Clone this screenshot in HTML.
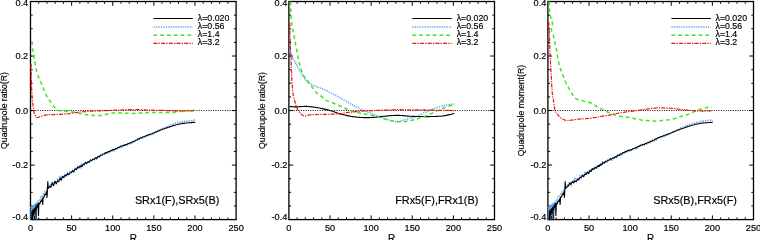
<!DOCTYPE html>
<html><head><meta charset="utf-8"><style>
html,body{margin:0;padding:0;background:#fff;width:760px;height:240px;overflow:hidden}
svg{display:block}
text{font-family:"Liberation Sans",sans-serif;fill:#000;stroke:#000;stroke-width:0.18px}
svg{will-change:transform}
.tk{font-size:9.2px}
.ax{font-size:10px}
.yl{font-size:8.7px}
.lg{font-size:8.8px}
.nt{font-size:10.85px}
</style></head><body>
<svg width="760" height="240" viewBox="0 0 760 240">
<line x1="30.5" y1="110.55" x2="236.1" y2="110.55" stroke="#222" stroke-width="1.1" stroke-dasharray="1.1 1.27"/>
<path d="M38.72,1.5v2.2M38.72,219.6v-2.2M46.95,1.5v2.2M46.95,219.6v-2.2M55.17,1.5v2.2M55.17,219.6v-2.2M63.40,1.5v2.2M63.40,219.6v-2.2M71.62,1.5v4.2M71.62,219.6v-4.2M79.84,1.5v2.2M79.84,219.6v-2.2M88.07,1.5v2.2M88.07,219.6v-2.2M96.29,1.5v2.2M96.29,219.6v-2.2M104.52,1.5v2.2M104.52,219.6v-2.2M112.74,1.5v4.2M112.74,219.6v-4.2M120.96,1.5v2.2M120.96,219.6v-2.2M129.19,1.5v2.2M129.19,219.6v-2.2M137.41,1.5v2.2M137.41,219.6v-2.2M145.64,1.5v2.2M145.64,219.6v-2.2M153.86,1.5v4.2M153.86,219.6v-4.2M162.08,1.5v2.2M162.08,219.6v-2.2M170.31,1.5v2.2M170.31,219.6v-2.2M178.53,1.5v2.2M178.53,219.6v-2.2M186.76,1.5v2.2M186.76,219.6v-2.2M194.98,1.5v4.2M194.98,219.6v-4.2M203.20,1.5v2.2M203.20,219.6v-2.2M211.43,1.5v2.2M211.43,219.6v-2.2M219.65,1.5v2.2M219.65,219.6v-2.2M227.88,1.5v2.2M227.88,219.6v-2.2M30.5,15.13h2.2M236.1,15.13h-2.2M30.5,28.76h2.2M236.1,28.76h-2.2M30.5,42.39h2.2M236.1,42.39h-2.2M30.5,56.03h4.2M236.1,56.03h-4.2M30.5,69.66h2.2M236.1,69.66h-2.2M30.5,83.29h2.2M236.1,83.29h-2.2M30.5,96.92h2.2M236.1,96.92h-2.2M30.5,110.55h4.2M236.1,110.55h-4.2M30.5,124.18h2.2M236.1,124.18h-2.2M30.5,137.81h2.2M236.1,137.81h-2.2M30.5,151.44h2.2M236.1,151.44h-2.2M30.5,165.08h4.2M236.1,165.08h-4.2M30.5,178.71h2.2M236.1,178.71h-2.2M30.5,192.34h2.2M236.1,192.34h-2.2M30.5,205.97h2.2M236.1,205.97h-2.2" stroke="#000" stroke-width="1" fill="none"/>
<rect x="30.5" y="1.5" width="205.6" height="218.10" fill="none" stroke="#000" stroke-width="1.3"/>
<text x="28.20" y="6.40" class="tk" text-anchor="end">0.4</text>
<text x="28.20" y="59.33" class="tk" text-anchor="end">0.2</text>
<text x="28.20" y="113.85" class="tk" text-anchor="end">0.0</text>
<text x="28.20" y="168.38" class="tk" text-anchor="end">-0.2</text>
<text x="28.20" y="220.00" class="tk" text-anchor="end">-0.4</text>
<text x="30.50" y="230.8" class="tk" text-anchor="middle">0</text>
<text x="71.62" y="230.8" class="tk" text-anchor="middle">50</text>
<text x="112.74" y="230.8" class="tk" text-anchor="middle">100</text>
<text x="153.86" y="230.8" class="tk" text-anchor="middle">150</text>
<text x="194.98" y="230.8" class="tk" text-anchor="middle">200</text>
<text x="236.10" y="230.8" class="tk" text-anchor="middle">250</text>
<text x="133.30" y="241.5" class="ax" text-anchor="middle">R</text>
<text transform="translate(6.60,110.55) rotate(-90)" class="yl" text-anchor="middle">Quadrupole ratio(R)</text>
<text x="134.90" y="204.4" class="nt">SRx1(F),SRx5(B)</text>
<path d="M31.00,206.24 L31.60,219.16 L32.20,205.63 L32.80,219.90 L33.40,204.97 L34.00,219.35 L34.60,204.84 L35.20,218.72 L35.80,203.03 L36.40,219.52" stroke="#5aa5f5" stroke-width="0.9" fill="none" stroke-dasharray="1.3 1.1"/>
<path d="M31.60,207.56 L32.50,220.04 L33.40,206.79 L34.30,219.66 L35.20,205.11 L36.10,218.97 L37.00,203.50" stroke="#000" stroke-width="0.7" fill="none"/>
<path d="M30.90,219.60 L31.20,207.00 L31.60,219.00 L32.10,206.00 L32.70,218.00 L33.30,205.00 L33.90,216.00 L34.50,204.00 L35.20,212.00 L35.80,203.00 L36.50,208.00 L37.20,201.50 L38.00,203.00 L39.00,199.50 L40.00,199.50 L41.00,196.80 L42.00,196.80 L43.00,194.00 L44.00,193.80 L45.00,191.50 L46.00,190.80 L47.00,188.00 L48.00,187.80 L49.00,186.00 L50.00,185.00 L50.90,186.25 L52.19,181.68 L53.63,183.33 L55.00,181.18 L56.25,182.11 L57.50,179.27 L58.75,181.43 L60.00,177.10 L61.25,179.38 L62.50,175.65 L63.75,177.61 L65.00,174.60 L66.25,175.52 L67.50,173.00 L68.75,174.64 L70.00,171.66 L71.25,172.94 L72.50,170.20 L73.75,171.25 L75.00,168.40 L76.30,169.39 L77.62,166.35 L78.89,167.43 L80.00,166.07 L80.84,167.43 L81.50,164.65 L82.16,165.62 L83.00,163.26 L84.11,165.59 L85.38,163.14 L86.70,163.68 L88.00,161.89 L89.25,162.36 L90.50,160.24 L91.75,160.96 L93.00,158.95 L94.25,159.63 L95.50,158.37 L96.75,159.24 L98.00,157.02 L99.25,157.57 L100.50,155.48 L101.75,156.16 L103.00,154.30 L104.25,154.44 L105.50,152.79 L106.75,153.99 L108.00,151.49 L109.25,152.67 L110.50,151.04 L111.75,151.51 L113.00,149.89 L114.25,150.73 L115.50,149.30 L116.75,149.36 L118.00,148.08 L119.25,148.45 L120.50,146.71 L121.75,147.31 L123.00,146.14 L124.25,146.47 L125.50,144.96 L126.75,145.35 L128.00,144.16 L129.25,144.31 L130.50,143.08 L131.75,143.44 L133.00,142.16 L134.25,142.15 L135.50,140.89 L136.75,140.93 L138.00,139.72 L139.25,139.53 L140.50,138.46 L141.75,138.59 L143.00,137.54 L144.25,137.49 L145.50,136.52 L146.75,136.47 L148.00,135.50 L149.25,135.83 L150.50,134.55 L151.75,134.65 L153.00,133.36 L154.25,133.24 L155.50,131.86 L156.75,131.49 L158.00,130.28 L159.25,130.32 L160.50,129.22 L161.75,128.94 L163.00,127.92 L164.25,127.89 L165.50,127.04 L166.75,126.75 L168.00,126.09 L169.25,125.94 L170.50,124.87 L171.75,125.10 L173.00,124.10 L174.25,123.94 L175.50,123.30 L176.75,123.33 L178.00,122.44 L179.25,122.60 L180.50,121.97 L181.75,121.99 L183.00,121.40 L184.25,121.54 L185.50,121.04 L186.75,121.23 L188.00,120.58 L189.32,120.74 L190.67,120.40 L191.95,120.59 L193.00,120.16 L193.80,120.42 L194.41,120.00 L194.87,120.30 L195.20,119.92" stroke="#5aa5f5" stroke-width="1.5" fill="none" stroke-dasharray="1.3 1.15"/>
<path d="M31.60,219.60 L32.00,211.00 L32.40,219.60 L32.90,210.00 L33.50,215.00 L34.10,208.50 L34.80,213.00 L35.50,207.00 L36.20,210.00 L36.90,205.00 L37.60,207.00 L38.10,203.50 L38.50,215.50 L38.90,203.00 L39.80,204.00 L40.60,201.00 L41.50,201.50 L42.20,198.50 L42.70,204.50 L43.20,197.00 L44.20,197.00 L45.00,194.00 L45.90,194.50 L46.60,191.50 L47.00,197.50 L47.50,189.50 L47.80,181.50 L48.30,188.50 L49.50,187.20 L50.00,186.20 L50.90,187.29 L52.19,182.93 L53.63,185.65 L55.00,181.22 L56.25,183.86 L57.50,180.89 L58.75,181.64 L60.00,178.08 L61.25,180.20 L62.50,176.43 L63.75,177.57 L65.00,175.26 L66.25,176.00 L67.50,173.58 L68.75,174.77 L70.00,172.69 L71.25,172.78 L72.50,170.91 L73.75,172.04 L75.00,168.92 L76.30,169.61 L77.62,167.28 L78.89,167.90 L80.00,165.96 L80.84,166.59 L81.50,165.55 L82.16,166.37 L83.00,164.38 L84.11,164.55 L85.38,162.32 L86.70,163.57 L88.00,161.46 L89.25,162.19 L90.50,159.94 L91.75,160.63 L93.00,158.96 L94.25,159.58 L95.50,157.50 L96.75,158.44 L98.00,156.23 L99.25,156.69 L100.50,155.21 L101.75,155.14 L103.00,153.96 L104.25,153.75 L105.50,152.62 L106.75,152.84 L108.00,151.66 L109.25,151.79 L110.50,150.52 L111.75,150.66 L113.00,149.37 L114.25,149.75 L115.50,148.60 L116.75,148.68 L118.00,147.37 L119.25,147.39 L120.50,146.16 L121.75,146.25 L123.00,145.19 L124.25,145.55 L125.50,144.54 L126.75,144.58 L128.00,143.47 L129.25,143.50 L130.50,142.60 L131.75,142.26 L133.00,141.46 L134.25,141.39 L135.50,140.21 L136.75,140.03 L138.00,138.74 L139.25,138.87 L140.50,137.79 L141.75,137.59 L143.00,136.69 L144.25,136.68 L145.50,135.83 L146.75,135.71 L148.00,134.74 L149.25,134.82 L150.50,134.04 L151.75,133.94 L153.00,133.12 L154.25,132.82 L155.50,131.97 L156.75,131.86 L158.00,130.98 L159.25,130.84 L160.50,129.98 L161.75,129.77 L163.00,129.10 L164.25,128.81 L165.50,128.22 L166.75,127.90 L168.00,127.24 L169.25,127.18 L170.50,126.51 L171.75,126.23 L173.00,125.61 L174.25,125.54 L175.50,124.97 L176.75,124.79 L178.00,124.29 L179.25,124.26 L180.50,123.76 L181.75,123.70 L183.00,123.36 L184.25,123.36 L185.50,123.03 L186.75,123.01 L188.00,122.68 L189.32,122.72 L190.67,122.47 L191.95,122.60 L193.00,122.31 L193.80,122.45 L194.41,122.29 L194.87,122.38 L195.20,122.26" stroke="#000000" stroke-width="1.1" fill="none" stroke-linejoin="round"/>
<path d="M31.70,41.50 L31.78,42.19 L31.89,43.13 L32.02,44.25 L32.17,45.48 L32.33,46.75 L32.50,48.00 L32.69,49.26 L32.90,50.59 L33.12,51.97 L33.36,53.35 L33.58,54.71 L33.80,56.00 L34.00,57.22 L34.20,58.41 L34.40,59.56 L34.60,60.70 L34.80,61.84 L35.00,63.00 L35.20,64.17 L35.39,65.33 L35.58,66.50 L35.79,67.67 L36.02,68.83 L36.30,70.00 L36.63,71.19 L37.00,72.41 L37.41,73.64 L37.82,74.83 L38.22,75.96 L38.60,77.00 L38.94,77.91 L39.26,78.69 L39.57,79.42 L39.89,80.14 L40.22,80.92 L40.60,81.80 L41.01,82.79 L41.45,83.85 L41.91,84.96 L42.39,86.11 L42.88,87.30 L43.40,88.50 L43.94,89.76 L44.51,91.10 L45.10,92.47 L45.70,93.83 L46.30,95.12 L46.90,96.30 L47.48,97.35 L48.06,98.30 L48.64,99.19 L49.24,100.04 L49.85,100.90 L50.50,101.80 L51.20,102.76 L51.96,103.77 L52.73,104.78 L53.50,105.75 L54.23,106.64 L54.90,107.40 L55.50,108.03 L56.05,108.55 L56.57,108.99 L57.06,109.37 L57.53,109.70 L58.00,110.00 L58.44,110.25 L58.84,110.44 L59.23,110.59 L59.61,110.70 L60.03,110.80 L60.50,110.90 L61.02,111.00 L61.57,111.07 L62.16,111.14 L62.76,111.19 L63.38,111.24 L64.00,111.30 L64.60,111.35 L65.17,111.39 L65.75,111.42 L66.39,111.47 L67.12,111.52 L68.00,111.60 L69.08,111.70 L70.35,111.81 L71.72,111.94 L73.09,112.09 L74.38,112.24 L75.50,112.40 L76.40,112.58 L77.14,112.77 L77.79,112.98 L78.44,113.19 L79.15,113.40 L80.00,113.60 L80.99,113.79 L82.07,113.99 L83.22,114.17 L84.40,114.36 L85.61,114.54 L86.80,114.70 L88.01,114.86 L89.26,115.02 L90.53,115.17 L91.79,115.30 L93.02,115.42 L94.20,115.50 L95.31,115.56 L96.38,115.61 L97.42,115.63 L98.44,115.63 L99.46,115.58 L100.50,115.50 L101.54,115.36 L102.56,115.17 L103.58,114.94 L104.62,114.69 L105.69,114.44 L106.80,114.20 L107.98,113.95 L109.23,113.68 L110.50,113.41 L111.77,113.15 L113.02,112.94 L114.20,112.80 L115.30,112.74 L116.34,112.74 L117.35,112.79 L118.36,112.87 L119.40,112.94 L120.50,113.00 L121.68,113.05 L122.93,113.10 L124.20,113.16 L125.47,113.21 L126.72,113.26 L127.90,113.30 L129.00,113.33 L130.04,113.37 L131.05,113.39 L132.06,113.41 L133.10,113.41 L134.20,113.40 L135.38,113.36 L136.63,113.30 L137.90,113.23 L139.17,113.15 L140.42,113.07 L141.60,113.00 L142.65,112.93 L143.57,112.85 L144.46,112.78 L145.41,112.70 L146.53,112.64 L147.90,112.60 L149.58,112.58 L151.51,112.58 L153.59,112.59 L155.76,112.61 L157.92,112.61 L160.00,112.60 L162.03,112.58 L164.08,112.55 L166.13,112.51 L168.15,112.46 L170.12,112.39 L172.00,112.30 L173.83,112.17 L175.63,112.01 L177.38,111.82 L179.04,111.64 L180.59,111.46 L182.00,111.30 L183.22,111.16 L184.26,111.03 L185.19,110.91 L186.08,110.80 L186.99,110.70 L188.00,110.60 L189.18,110.51 L190.49,110.43 L191.82,110.36 L193.08,110.29 L194.14,110.24 L194.90,110.20" stroke="#3ee81c" stroke-width="1.5" fill="none" stroke-dasharray="3.8 3"/>
<path d="M31.00,64.00 L31.02,65.17 L31.04,66.78 L31.07,68.69 L31.11,70.78 L31.15,72.92 L31.20,75.00 L31.25,77.06 L31.31,79.22 L31.37,81.44 L31.44,83.67 L31.51,85.87 L31.60,88.00 L31.70,90.12 L31.80,92.26 L31.91,94.38 L32.03,96.41 L32.16,98.30 L32.30,100.00 L32.45,101.48 L32.62,102.78 L32.80,103.94 L32.98,105.00 L33.15,106.01 L33.30,107.00 L33.43,107.97 L33.54,108.87 L33.64,109.73 L33.74,110.53 L33.86,111.28 L34.00,112.00 L34.16,112.67 L34.33,113.30 L34.52,113.88 L34.72,114.42 L34.95,114.93 L35.20,115.40 L35.45,115.87 L35.70,116.33 L35.98,116.76 L36.30,117.11 L36.70,117.37 L37.20,117.50 L37.84,117.45 L38.59,117.25 L39.43,116.95 L40.30,116.60 L41.17,116.27 L42.00,116.00 L42.79,115.78 L43.57,115.57 L44.35,115.37 L45.13,115.19 L45.93,115.03 L46.75,114.90 L47.57,114.80 L48.39,114.74 L49.22,114.69 L50.08,114.66 L51.00,114.63 L52.00,114.60 L53.06,114.57 L54.17,114.55 L55.33,114.53 L56.56,114.51 L57.86,114.47 L59.25,114.40 L60.80,114.30 L62.50,114.19 L64.28,114.05 L66.06,113.90 L67.74,113.75 L69.25,113.60 L70.54,113.44 L71.66,113.28 L72.69,113.11 L73.70,112.94 L74.78,112.77 L76.00,112.60 L77.34,112.43 L78.75,112.25 L80.22,112.07 L81.75,111.90 L83.34,111.74 L85.00,111.60 L86.76,111.47 L88.62,111.36 L90.54,111.26 L92.49,111.17 L94.42,111.08 L96.30,111.00 L98.12,110.92 L99.92,110.86 L101.71,110.79 L103.48,110.73 L105.24,110.67 L107.00,110.60 L108.69,110.52 L110.30,110.44 L111.89,110.36 L113.56,110.27 L115.37,110.18 L117.40,110.10 L119.68,110.01 L122.16,109.90 L124.79,109.79 L127.50,109.69 L130.26,109.63 L133.00,109.60 L135.78,109.63 L138.64,109.70 L141.54,109.79 L144.43,109.90 L147.27,110.01 L150.00,110.10 L152.62,110.17 L155.15,110.24 L157.62,110.31 L160.07,110.37 L162.52,110.43 L165.00,110.50 L167.50,110.57 L170.00,110.65 L172.51,110.72 L175.01,110.80 L177.51,110.86 L180.00,110.90 L182.66,110.92 L185.53,110.93 L188.39,110.93 L191.04,110.91 L193.28,110.90 L194.90,110.90" stroke="#f01010" stroke-width="1.2" fill="none" stroke-dasharray="4 1.2 1.3 1.2"/>
<line x1="153.4" y1="18.5" x2="192.8" y2="18.5" stroke="#000000" stroke-width="1.1" fill="none" stroke-linejoin="round"/>
<line x1="153.4" y1="27.0" x2="192.8" y2="27.0" stroke="#5aa5f5" stroke-width="1.5" fill="none" stroke-dasharray="1.3 1.15"/>
<line x1="153.4" y1="35.2" x2="192.8" y2="35.2" stroke="#3ee81c" stroke-width="1.5" fill="none" stroke-dasharray="3.8 3"/>
<line x1="153.4" y1="43.3" x2="192.8" y2="43.3" stroke="#f01010" stroke-width="1.2" fill="none" stroke-dasharray="4 1.2 1.3 1.2"/>
<text x="197.8" y="20.80" class="lg">λ=0.020</text>
<text x="197.8" y="28.90" class="lg">λ=0.56</text>
<text x="197.8" y="37.15" class="lg">λ=1.4</text>
<text x="197.8" y="45.30" class="lg">λ=3.2</text>
<line x1="288.9" y1="110.55" x2="494.5" y2="110.55" stroke="#222" stroke-width="1.1" stroke-dasharray="1.1 1.27"/>
<path d="M297.12,1.5v2.2M297.12,219.6v-2.2M305.35,1.5v2.2M305.35,219.6v-2.2M313.57,1.5v2.2M313.57,219.6v-2.2M321.80,1.5v2.2M321.80,219.6v-2.2M330.02,1.5v4.2M330.02,219.6v-4.2M338.24,1.5v2.2M338.24,219.6v-2.2M346.47,1.5v2.2M346.47,219.6v-2.2M354.69,1.5v2.2M354.69,219.6v-2.2M362.92,1.5v2.2M362.92,219.6v-2.2M371.14,1.5v4.2M371.14,219.6v-4.2M379.36,1.5v2.2M379.36,219.6v-2.2M387.59,1.5v2.2M387.59,219.6v-2.2M395.81,1.5v2.2M395.81,219.6v-2.2M404.04,1.5v2.2M404.04,219.6v-2.2M412.26,1.5v4.2M412.26,219.6v-4.2M420.48,1.5v2.2M420.48,219.6v-2.2M428.71,1.5v2.2M428.71,219.6v-2.2M436.93,1.5v2.2M436.93,219.6v-2.2M445.16,1.5v2.2M445.16,219.6v-2.2M453.38,1.5v4.2M453.38,219.6v-4.2M461.60,1.5v2.2M461.60,219.6v-2.2M469.83,1.5v2.2M469.83,219.6v-2.2M478.05,1.5v2.2M478.05,219.6v-2.2M486.28,1.5v2.2M486.28,219.6v-2.2M288.9,15.13h2.2M494.5,15.13h-2.2M288.9,28.76h2.2M494.5,28.76h-2.2M288.9,42.39h2.2M494.5,42.39h-2.2M288.9,56.03h4.2M494.5,56.03h-4.2M288.9,69.66h2.2M494.5,69.66h-2.2M288.9,83.29h2.2M494.5,83.29h-2.2M288.9,96.92h2.2M494.5,96.92h-2.2M288.9,110.55h4.2M494.5,110.55h-4.2M288.9,124.18h2.2M494.5,124.18h-2.2M288.9,137.81h2.2M494.5,137.81h-2.2M288.9,151.44h2.2M494.5,151.44h-2.2M288.9,165.08h4.2M494.5,165.08h-4.2M288.9,178.71h2.2M494.5,178.71h-2.2M288.9,192.34h2.2M494.5,192.34h-2.2M288.9,205.97h2.2M494.5,205.97h-2.2" stroke="#000" stroke-width="1" fill="none"/>
<rect x="288.9" y="1.5" width="205.6" height="218.10" fill="none" stroke="#000" stroke-width="1.3"/>
<text x="287.40" y="6.40" class="tk" text-anchor="end">0.4</text>
<text x="287.40" y="59.33" class="tk" text-anchor="end">0.2</text>
<text x="287.40" y="113.85" class="tk" text-anchor="end">0.0</text>
<text x="287.40" y="168.38" class="tk" text-anchor="end">-0.2</text>
<text x="287.40" y="220.00" class="tk" text-anchor="end">-0.4</text>
<text x="288.90" y="230.8" class="tk" text-anchor="middle">0</text>
<text x="330.02" y="230.8" class="tk" text-anchor="middle">50</text>
<text x="371.14" y="230.8" class="tk" text-anchor="middle">100</text>
<text x="412.26" y="230.8" class="tk" text-anchor="middle">150</text>
<text x="453.38" y="230.8" class="tk" text-anchor="middle">200</text>
<text x="494.50" y="230.8" class="tk" text-anchor="middle">250</text>
<text x="391.70" y="241.5" class="ax" text-anchor="middle">R</text>
<text transform="translate(265.00,110.55) rotate(-90)" class="yl" text-anchor="middle">Quadrupole ratio(R)</text>
<text x="395.20" y="204.4" class="nt">FRx5(F),FRx1(B)</text>
<path d="M290.20,40.64 L290.21,42.39 L290.22,42.84 L290.24,45.37 L290.27,46.24 L290.30,48.41 L290.34,48.91 L290.39,50.62 L290.44,50.81 L290.51,52.65 L290.60,52.79 L290.71,54.04 L290.83,54.18 L290.96,55.46 L291.12,55.05 L291.30,56.19 L291.50,55.91 L291.73,57.42 L291.97,56.83 L292.23,58.02 L292.50,57.78 L292.77,58.55 L293.05,58.37 L293.35,59.28 L293.66,59.27 L294.00,60.25 L294.36,60.41 L294.74,61.54 L295.14,61.61 L295.56,63.13 L296.00,63.17 L296.47,64.78 L296.96,65.10 L297.48,66.83 L297.99,67.21 L298.50,68.73 L299.01,68.99 L299.52,70.87 L300.04,70.93 L300.53,72.56 L301.00,72.77 L301.42,73.89 L301.81,74.07 L302.19,74.99 L302.58,75.04 L303.00,76.24 L303.46,76.30 L303.93,77.61 L304.42,77.70 L304.94,79.16 L305.50,79.38 L306.05,80.35 L306.60,80.48 L307.20,81.74 L307.90,81.78 L308.75,83.01 L309.81,83.33 L311.03,84.38 L312.36,84.49 L313.70,85.56 L315.00,85.89 L316.25,86.70 L317.50,86.75 L318.75,87.76 L320.00,87.89 L321.25,88.63 L322.50,88.92 L323.75,89.63 L325.00,89.87 L326.25,90.73 L327.50,91.04 L328.75,91.92 L330.00,92.30 L331.25,93.18 L332.50,93.57 L333.75,94.45 L335.00,94.90 L336.25,95.78 L337.50,96.30 L338.75,97.18 L340.00,97.64 L341.25,98.63 L342.50,99.09 L343.75,99.99 L345.00,100.48 L346.25,101.33 L347.50,101.87 L348.75,102.87 L350.00,103.49 L351.25,104.42 L352.50,104.95 L353.75,105.71 L355.00,106.17 L356.25,106.92 L357.50,107.38 L358.75,108.04 L360.00,108.52 L361.25,109.17 L362.50,109.58 L363.75,110.22 L365.00,110.65 L366.25,111.31 L367.50,111.75 L368.75,112.45 L370.00,112.90 L371.25,113.57 L372.50,113.99 L373.75,114.57 L375.00,114.97 L376.25,115.58 L377.50,115.97 L378.75,116.49 L380.00,116.86 L381.25,117.40 L382.50,117.75 L383.75,118.25 L385.00,118.59 L386.25,119.12 L387.50,119.48 L388.75,119.94 L390.00,120.28 L391.27,120.71 L392.56,121.00 L393.84,121.37 L395.08,121.55 L396.25,121.74 L397.35,121.66 L398.40,121.58 L399.40,121.35 L400.35,121.16 L401.25,120.89 L402.06,120.69 L402.78,120.39 L403.47,120.17 L404.19,119.84 L405.00,119.62 L405.92,119.31 L406.91,119.10 L407.94,118.82 L408.98,118.58 L410.00,118.28 L411.00,118.05 L412.00,117.77 L413.00,117.53 L414.00,117.21 L415.00,116.91 L416.00,116.51 L417.00,116.14 L418.00,115.66 L419.00,115.26 L420.00,114.78 L421.00,114.37 L422.00,113.89 L423.00,113.44 L424.00,112.96 L425.00,112.52 L426.00,112.02 L427.00,111.59 L428.00,111.10 L429.00,110.66 L430.00,110.19 L431.00,109.77 L432.00,109.31 L433.00,108.90 L434.00,108.47 L435.00,108.11 L436.00,107.74 L437.00,107.46 L438.00,107.14 L439.00,106.88 L440.00,106.59 L441.00,106.35 L442.00,106.08 L443.00,105.85 L444.00,105.60 L445.00,105.41 L446.01,105.19 L447.03,105.01 L448.04,104.81 L449.04,104.66 L450.00,104.49 L450.99,104.37 L452.01,104.24 L452.99,104.15 L453.81,104.06 L454.40,104.01" stroke="#5aa5f5" stroke-width="1.5" fill="none" stroke-dasharray="1.3 1.15"/>
<path d="M289.40,106.40 L289.67,106.43 L290.02,106.48 L290.45,106.54 L290.93,106.60 L291.46,106.65 L292.00,106.70 L292.58,106.74 L293.21,106.79 L293.88,106.84 L294.58,106.87 L295.29,106.90 L296.00,106.90 L296.70,106.88 L297.40,106.83 L298.11,106.78 L298.85,106.71 L299.64,106.65 L300.50,106.60 L301.44,106.55 L302.45,106.50 L303.52,106.44 L304.60,106.40 L305.69,106.39 L306.75,106.40 L307.79,106.45 L308.83,106.53 L309.88,106.63 L310.92,106.74 L311.96,106.87 L313.00,107.00 L314.04,107.14 L315.08,107.29 L316.12,107.45 L317.17,107.62 L318.21,107.81 L319.25,108.00 L320.29,108.21 L321.33,108.43 L322.38,108.66 L323.42,108.90 L324.46,109.15 L325.50,109.40 L326.54,109.65 L327.58,109.90 L328.62,110.15 L329.67,110.41 L330.71,110.70 L331.75,111.00 L332.77,111.33 L333.76,111.69 L334.75,112.06 L335.77,112.44 L336.84,112.83 L338.00,113.20 L339.28,113.58 L340.68,113.97 L342.12,114.36 L343.57,114.74 L344.97,115.09 L346.25,115.40 L347.41,115.66 L348.48,115.89 L349.50,116.09 L350.49,116.27 L351.48,116.44 L352.50,116.60 L353.54,116.75 L354.58,116.89 L355.62,117.01 L356.67,117.11 L357.71,117.21 L358.75,117.30 L359.79,117.38 L360.83,117.44 L361.88,117.50 L362.92,117.54 L363.96,117.58 L365.00,117.60 L366.04,117.61 L367.08,117.61 L368.12,117.60 L369.17,117.58 L370.21,117.54 L371.25,117.50 L372.29,117.44 L373.33,117.37 L374.38,117.29 L375.42,117.20 L376.46,117.10 L377.50,117.00 L378.54,116.89 L379.58,116.78 L380.62,116.66 L381.67,116.53 L382.71,116.41 L383.75,116.30 L384.79,116.19 L385.83,116.08 L386.88,115.97 L387.92,115.87 L388.96,115.78 L390.00,115.70 L391.06,115.63 L392.13,115.56 L393.20,115.51 L394.26,115.46 L395.28,115.42 L396.25,115.40 L397.14,115.39 L397.96,115.39 L398.75,115.39 L399.54,115.41 L400.36,115.45 L401.25,115.50 L402.22,115.57 L403.24,115.67 L404.30,115.79 L405.37,115.90 L406.44,116.01 L407.50,116.10 L408.47,116.17 L409.35,116.23 L410.23,116.27 L411.20,116.32 L412.35,116.36 L413.75,116.40 L415.47,116.44 L417.45,116.49 L419.61,116.54 L421.85,116.57 L424.09,116.60 L426.25,116.60 L428.41,116.58 L430.65,116.55 L432.89,116.51 L435.05,116.45 L437.03,116.38 L438.75,116.30 L440.15,116.21 L441.30,116.12 L442.27,116.02 L443.15,115.90 L444.03,115.76 L445.00,115.60 L446.08,115.40 L447.20,115.16 L448.32,114.91 L449.40,114.65 L450.39,114.41 L451.25,114.20 L451.99,114.02 L452.65,113.86 L453.22,113.71 L453.70,113.59 L454.09,113.48 L454.40,113.40" stroke="#000000" stroke-width="1.1" fill="none" stroke-linejoin="round"/>
<path d="M290.50,1.50 L290.53,2.44 L290.58,3.76 L290.63,5.31 L290.69,6.96 L290.75,8.57 L290.80,10.00 L290.84,11.25 L290.88,12.44 L290.92,13.59 L290.96,14.72 L291.02,15.85 L291.10,17.00 L291.20,18.18 L291.33,19.37 L291.46,20.56 L291.61,21.74 L291.76,22.89 L291.90,24.00 L292.04,25.05 L292.18,26.06 L292.32,27.05 L292.47,28.02 L292.63,29.00 L292.80,30.00 L293.00,31.06 L293.22,32.16 L293.46,33.27 L293.69,34.34 L293.91,35.35 L294.10,36.25 L294.26,36.98 L294.39,37.57 L294.51,38.08 L294.63,38.61 L294.76,39.22 L294.90,40.00 L295.06,40.98 L295.24,42.11 L295.42,43.33 L295.61,44.58 L295.80,45.79 L296.00,46.90 L296.20,47.89 L296.41,48.79 L296.62,49.66 L296.83,50.54 L297.04,51.47 L297.25,52.50 L297.45,53.65 L297.64,54.88 L297.83,56.17 L298.04,57.47 L298.25,58.76 L298.50,60.00 L298.77,61.18 L299.06,62.32 L299.37,63.45 L299.70,64.58 L300.04,65.72 L300.40,66.90 L300.79,68.17 L301.20,69.52 L301.64,70.89 L302.07,72.20 L302.50,73.40 L302.90,74.40 L303.25,75.15 L303.57,75.69 L303.87,76.11 L304.19,76.49 L304.56,76.92 L305.00,77.50 L305.53,78.22 L306.13,79.03 L306.77,79.88 L307.44,80.76 L308.11,81.64 L308.75,82.50 L309.38,83.33 L310.00,84.17 L310.62,85.00 L311.25,85.83 L311.88,86.67 L312.50,87.50 L313.11,88.35 L313.70,89.21 L314.30,90.08 L314.91,90.93 L315.55,91.74 L316.25,92.50 L317.02,93.20 L317.85,93.84 L318.72,94.45 L319.59,95.05 L320.45,95.64 L321.25,96.25 L321.98,96.89 L322.65,97.55 L323.30,98.20 L323.96,98.84 L324.68,99.45 L325.50,100.00 L326.43,100.49 L327.44,100.93 L328.50,101.33 L329.59,101.71 L330.69,102.10 L331.75,102.50 L332.78,102.91 L333.79,103.30 L334.80,103.69 L335.82,104.09 L336.89,104.53 L338.00,105.00 L339.18,105.53 L340.43,106.12 L341.70,106.73 L342.99,107.35 L344.26,107.95 L345.50,108.50 L346.70,109.02 L347.90,109.52 L349.08,110.00 L350.24,110.46 L351.38,110.88 L352.50,111.25 L353.59,111.57 L354.64,111.84 L355.67,112.07 L356.69,112.28 L357.72,112.48 L358.75,112.70 L359.79,112.93 L360.83,113.15 L361.88,113.37 L362.92,113.58 L363.96,113.79 L365.00,114.00 L366.04,114.20 L367.08,114.39 L368.12,114.58 L369.17,114.77 L370.21,114.98 L371.25,115.20 L372.29,115.44 L373.33,115.69 L374.38,115.96 L375.42,116.23 L376.46,116.51 L377.50,116.80 L378.54,117.10 L379.58,117.42 L380.62,117.74 L381.67,118.07 L382.71,118.39 L383.75,118.70 L384.78,119.00 L385.79,119.30 L386.80,119.59 L387.82,119.88 L388.89,120.15 L390.00,120.40 L391.22,120.64 L392.55,120.88 L393.91,121.10 L395.23,121.30 L396.45,121.47 L397.50,121.60 L398.34,121.68 L399.03,121.73 L399.61,121.74 L400.14,121.73 L400.67,121.71 L401.25,121.70 L401.86,121.69 L402.45,121.68 L403.05,121.66 L403.66,121.62 L404.30,121.57 L405.00,121.50 L405.76,121.41 L406.57,121.30 L407.42,121.17 L408.29,121.03 L409.15,120.87 L410.00,120.70 L410.83,120.51 L411.67,120.31 L412.50,120.09 L413.33,119.87 L414.17,119.63 L415.00,119.40 L415.83,119.16 L416.67,118.92 L417.50,118.67 L418.33,118.42 L419.17,118.16 L420.00,117.90 L420.83,117.63 L421.67,117.36 L422.50,117.09 L423.33,116.80 L424.17,116.51 L425.00,116.20 L425.83,115.87 L426.67,115.53 L427.50,115.18 L428.33,114.82 L429.17,114.46 L430.00,114.10 L430.83,113.74 L431.67,113.38 L432.50,113.01 L433.33,112.64 L434.17,112.27 L435.00,111.90 L435.83,111.52 L436.67,111.13 L437.50,110.74 L438.33,110.36 L439.17,109.97 L440.00,109.60 L440.83,109.23 L441.67,108.87 L442.50,108.51 L443.33,108.16 L444.17,107.82 L445.00,107.50 L445.84,107.19 L446.69,106.88 L447.54,106.58 L448.38,106.30 L449.20,106.04 L450.00,105.80 L450.82,105.58 L451.67,105.38 L452.51,105.19 L453.28,105.03 L453.93,104.90 L454.40,104.80" stroke="#3ee81c" stroke-width="1.5" fill="none" stroke-dasharray="3.8 3"/>
<path d="M289.75,23.00 L289.79,24.87 L289.83,27.48 L289.89,30.56 L289.95,33.85 L290.02,37.09 L290.10,40.00 L290.18,42.62 L290.28,45.15 L290.38,47.62 L290.48,50.07 L290.59,52.52 L290.70,55.00 L290.81,57.50 L290.92,60.00 L291.04,62.50 L291.16,65.00 L291.28,67.50 L291.40,70.00 L291.53,72.56 L291.65,75.19 L291.78,77.81 L291.91,80.37 L292.05,82.79 L292.20,85.00 L292.36,87.03 L292.52,88.93 L292.69,90.69 L292.86,92.30 L293.03,93.74 L293.20,95.00 L293.37,96.01 L293.53,96.78 L293.69,97.38 L293.86,97.89 L294.03,98.40 L294.20,99.00 L294.38,99.66 L294.56,100.33 L294.74,100.99 L294.92,101.65 L295.11,102.32 L295.30,103.00 L295.48,103.69 L295.66,104.40 L295.84,105.12 L296.04,105.83 L296.25,106.53 L296.50,107.20 L296.79,107.87 L297.13,108.54 L297.48,109.19 L297.84,109.82 L298.19,110.39 L298.50,110.90 L298.77,111.32 L299.00,111.65 L299.22,111.94 L299.44,112.20 L299.70,112.48 L300.00,112.80 L300.36,113.18 L300.76,113.59 L301.19,114.01 L301.63,114.41 L302.07,114.79 L302.50,115.10 L302.91,115.36 L303.31,115.60 L303.72,115.79 L304.13,115.95 L304.55,116.05 L305.00,116.10 L305.46,116.07 L305.93,115.96 L306.41,115.81 L306.91,115.63 L307.44,115.45 L308.00,115.30 L308.57,115.17 L309.14,115.04 L309.73,114.91 L310.39,114.79 L311.13,114.68 L312.00,114.60 L312.96,114.55 L313.98,114.53 L315.09,114.52 L316.32,114.53 L317.70,114.52 L319.25,114.50 L321.08,114.46 L323.19,114.42 L325.44,114.37 L327.70,114.31 L329.85,114.26 L331.75,114.20 L333.39,114.15 L334.89,114.10 L336.27,114.05 L337.56,113.99 L338.79,113.91 L340.00,113.80 L341.16,113.65 L342.23,113.47 L343.25,113.26 L344.24,113.06 L345.23,112.86 L346.25,112.70 L347.29,112.57 L348.33,112.47 L349.38,112.38 L350.42,112.30 L351.46,112.21 L352.50,112.10 L353.54,111.97 L354.58,111.83 L355.62,111.69 L356.67,111.54 L357.71,111.41 L358.75,111.30 L359.72,111.21 L360.60,111.14 L361.48,111.08 L362.45,111.03 L363.60,110.97 L365.00,110.90 L366.72,110.82 L368.70,110.74 L370.86,110.66 L373.10,110.57 L375.34,110.48 L377.50,110.40 L379.64,110.31 L381.85,110.22 L384.06,110.13 L386.20,110.04 L388.21,109.97 L390.00,109.90 L391.37,109.84 L392.31,109.80 L393.12,109.76 L394.07,109.73 L395.44,109.71 L397.50,109.70 L400.41,109.71 L403.98,109.73 L407.97,109.76 L412.13,109.80 L416.22,109.85 L420.00,109.90 L423.54,109.96 L427.06,110.02 L430.51,110.09 L433.84,110.17 L437.02,110.24 L440.00,110.30 L442.89,110.36 L445.75,110.42 L448.45,110.47 L450.87,110.53 L452.90,110.57 L454.40,110.60" stroke="#f01010" stroke-width="1.2" fill="none" stroke-dasharray="4 1.2 1.3 1.2"/>
<line x1="412.29999999999995" y1="18.5" x2="451.69999999999993" y2="18.5" stroke="#000000" stroke-width="1.1" fill="none" stroke-linejoin="round"/>
<line x1="412.29999999999995" y1="27.0" x2="451.69999999999993" y2="27.0" stroke="#5aa5f5" stroke-width="1.5" fill="none" stroke-dasharray="1.3 1.15"/>
<line x1="412.29999999999995" y1="35.2" x2="451.69999999999993" y2="35.2" stroke="#3ee81c" stroke-width="1.5" fill="none" stroke-dasharray="3.8 3"/>
<line x1="412.29999999999995" y1="43.3" x2="451.69999999999993" y2="43.3" stroke="#f01010" stroke-width="1.2" fill="none" stroke-dasharray="4 1.2 1.3 1.2"/>
<text x="456.7" y="20.80" class="lg">λ=0.020</text>
<text x="456.7" y="28.90" class="lg">λ=0.56</text>
<text x="456.7" y="37.15" class="lg">λ=1.4</text>
<text x="456.7" y="45.30" class="lg">λ=3.2</text>
<line x1="547.9" y1="110.55" x2="753.5" y2="110.55" stroke="#222" stroke-width="1.1" stroke-dasharray="1.1 1.27"/>
<path d="M556.12,1.5v2.2M556.12,219.6v-2.2M564.35,1.5v2.2M564.35,219.6v-2.2M572.57,1.5v2.2M572.57,219.6v-2.2M580.80,1.5v2.2M580.80,219.6v-2.2M589.02,1.5v4.2M589.02,219.6v-4.2M597.24,1.5v2.2M597.24,219.6v-2.2M605.47,1.5v2.2M605.47,219.6v-2.2M613.69,1.5v2.2M613.69,219.6v-2.2M621.92,1.5v2.2M621.92,219.6v-2.2M630.14,1.5v4.2M630.14,219.6v-4.2M638.36,1.5v2.2M638.36,219.6v-2.2M646.59,1.5v2.2M646.59,219.6v-2.2M654.81,1.5v2.2M654.81,219.6v-2.2M663.04,1.5v2.2M663.04,219.6v-2.2M671.26,1.5v4.2M671.26,219.6v-4.2M679.48,1.5v2.2M679.48,219.6v-2.2M687.71,1.5v2.2M687.71,219.6v-2.2M695.93,1.5v2.2M695.93,219.6v-2.2M704.16,1.5v2.2M704.16,219.6v-2.2M712.38,1.5v4.2M712.38,219.6v-4.2M720.60,1.5v2.2M720.60,219.6v-2.2M728.83,1.5v2.2M728.83,219.6v-2.2M737.05,1.5v2.2M737.05,219.6v-2.2M745.28,1.5v2.2M745.28,219.6v-2.2M547.9,15.13h2.2M753.5,15.13h-2.2M547.9,28.76h2.2M753.5,28.76h-2.2M547.9,42.39h2.2M753.5,42.39h-2.2M547.9,56.03h4.2M753.5,56.03h-4.2M547.9,69.66h2.2M753.5,69.66h-2.2M547.9,83.29h2.2M753.5,83.29h-2.2M547.9,96.92h2.2M753.5,96.92h-2.2M547.9,110.55h4.2M753.5,110.55h-4.2M547.9,124.18h2.2M753.5,124.18h-2.2M547.9,137.81h2.2M753.5,137.81h-2.2M547.9,151.44h2.2M753.5,151.44h-2.2M547.9,165.08h4.2M753.5,165.08h-4.2M547.9,178.71h2.2M753.5,178.71h-2.2M547.9,192.34h2.2M753.5,192.34h-2.2M547.9,205.97h2.2M753.5,205.97h-2.2" stroke="#000" stroke-width="1" fill="none"/>
<rect x="547.9" y="1.5" width="205.6" height="218.10" fill="none" stroke="#000" stroke-width="1.3"/>
<text x="546.30" y="6.40" class="tk" text-anchor="end">0.4</text>
<text x="546.30" y="59.33" class="tk" text-anchor="end">0.2</text>
<text x="546.30" y="113.85" class="tk" text-anchor="end">0.0</text>
<text x="546.30" y="168.38" class="tk" text-anchor="end">-0.2</text>
<text x="546.30" y="220.00" class="tk" text-anchor="end">-0.4</text>
<text x="547.90" y="230.8" class="tk" text-anchor="middle">0</text>
<text x="589.02" y="230.8" class="tk" text-anchor="middle">50</text>
<text x="630.14" y="230.8" class="tk" text-anchor="middle">100</text>
<text x="671.26" y="230.8" class="tk" text-anchor="middle">150</text>
<text x="712.38" y="230.8" class="tk" text-anchor="middle">200</text>
<text x="753.50" y="230.8" class="tk" text-anchor="middle">250</text>
<text x="650.70" y="241.5" class="ax" text-anchor="middle">R</text>
<text transform="translate(524.00,110.55) rotate(-90)" class="yl" text-anchor="middle">Quadrupole moment(R)</text>
<text x="653.20" y="204.4" class="nt">SRx5(B),FRx5(F)</text>
<path d="M548.40,206.23 L549.00,219.44 L549.60,206.41 L550.20,219.30 L550.80,205.47 L551.40,219.48 L552.00,204.12 L552.60,219.37 L553.20,203.11 L553.80,219.79" stroke="#5aa5f5" stroke-width="0.9" fill="none" stroke-dasharray="1.3 1.1"/>
<path d="M549.00,207.90 L549.90,219.24 L550.80,207.24 L551.70,218.91 L552.60,205.83 L553.50,219.84 L554.40,203.15" stroke="#000" stroke-width="0.7" fill="none"/>
<path d="M548.30,219.60 L548.60,207.00 L549.00,219.00 L549.50,206.00 L550.10,218.00 L550.70,205.00 L551.30,216.00 L551.90,204.00 L552.60,212.00 L553.20,203.00 L553.90,208.00 L554.60,201.50 L555.40,203.00 L556.40,199.50 L557.40,199.50 L558.40,196.80 L559.40,196.80 L560.40,194.00 L561.40,193.80 L562.40,191.50 L563.40,190.80 L564.40,188.00 L565.40,187.80 L566.40,186.00 L567.40,185.00 L568.30,186.35 L569.59,181.71 L571.03,184.89 L572.40,180.68 L573.65,181.88 L574.90,178.43 L576.15,181.16 L577.40,177.79 L578.65,179.52 L579.90,175.92 L581.15,177.81 L582.40,174.64 L583.65,175.18 L584.90,171.85 L586.15,173.80 L587.40,171.36 L588.65,172.92 L589.90,169.40 L591.15,170.50 L592.40,168.10 L593.70,169.73 L595.02,167.24 L596.29,168.24 L597.40,166.00 L598.24,166.71 L598.90,165.18 L599.56,165.76 L600.40,163.27 L601.51,164.95 L602.77,162.13 L604.10,163.69 L605.40,161.37 L606.65,162.97 L607.90,160.17 L609.15,160.90 L610.40,159.06 L611.65,160.21 L612.90,158.36 L614.15,158.55 L615.40,156.58 L616.65,157.66 L617.90,155.84 L619.15,156.14 L620.40,154.44 L621.65,155.09 L622.90,152.98 L624.15,153.30 L625.40,151.61 L626.65,152.22 L627.90,151.10 L629.15,151.26 L630.40,149.86 L631.65,150.33 L632.90,149.01 L634.15,149.26 L635.40,148.00 L636.65,148.56 L637.90,146.89 L639.15,147.28 L640.40,145.86 L641.65,146.24 L642.90,144.86 L644.15,145.10 L645.40,144.02 L646.65,144.20 L647.90,142.82 L649.15,143.53 L650.40,142.18 L651.65,141.94 L652.90,140.63 L654.15,140.87 L655.40,139.73 L656.65,139.73 L657.90,138.18 L659.15,138.50 L660.40,137.41 L661.65,137.54 L662.90,136.21 L664.15,136.46 L665.40,135.57 L666.65,135.52 L667.90,134.49 L669.15,134.46 L670.40,133.33 L671.65,133.04 L672.90,131.97 L674.15,131.54 L675.40,130.20 L676.65,130.21 L677.90,129.13 L679.15,129.15 L680.40,128.05 L681.65,127.87 L682.90,127.10 L684.15,126.79 L685.40,126.04 L686.65,125.82 L687.90,124.90 L689.15,124.90 L690.40,124.17 L691.65,124.09 L692.90,123.15 L694.15,123.20 L695.40,122.46 L696.65,122.54 L697.90,121.89 L699.15,122.01 L700.40,121.29 L701.65,121.57 L702.90,120.99 L704.15,121.21 L705.40,120.69 L706.72,120.78 L708.07,120.26 L709.35,120.53 L710.40,120.07 L711.20,120.30 L711.81,119.93 L712.27,120.28 L712.60,120.01" stroke="#5aa5f5" stroke-width="1.5" fill="none" stroke-dasharray="1.3 1.15"/>
<path d="M549.00,219.60 L549.40,211.00 L549.80,219.60 L550.30,210.00 L550.90,215.00 L551.50,208.50 L552.20,213.00 L552.90,207.00 L553.60,210.00 L554.30,205.00 L555.00,207.00 L555.50,203.50 L555.90,215.50 L556.30,203.00 L557.20,204.00 L558.00,201.00 L558.90,201.50 L559.60,198.50 L560.10,204.50 L560.60,197.00 L561.60,197.00 L562.40,194.00 L563.30,194.50 L564.00,191.50 L564.40,197.50 L564.90,189.50 L565.20,181.50 L565.70,188.50 L566.90,187.20 L567.40,186.20 L568.30,186.27 L569.59,183.17 L571.03,184.23 L572.40,181.55 L573.65,182.99 L574.90,180.85 L576.15,181.70 L577.40,179.39 L578.65,179.89 L579.90,177.57 L581.15,177.54 L582.40,175.32 L583.65,176.74 L584.90,174.10 L586.15,174.35 L587.40,171.96 L588.65,173.62 L589.90,170.57 L591.15,171.47 L592.40,168.69 L593.70,169.49 L595.02,167.21 L596.29,168.05 L597.40,166.42 L598.24,166.59 L598.90,165.26 L599.56,166.32 L600.40,164.41 L601.51,164.87 L602.77,162.62 L604.10,163.15 L605.40,161.24 L606.65,161.47 L607.90,160.32 L609.15,160.27 L610.40,158.61 L611.65,159.21 L612.90,157.76 L614.15,158.18 L615.40,156.53 L616.65,156.69 L617.90,154.94 L619.15,155.48 L620.40,153.90 L621.65,154.05 L622.90,152.49 L624.15,152.99 L625.40,151.26 L626.65,151.58 L627.90,150.19 L629.15,150.57 L630.40,149.57 L631.65,149.88 L632.90,148.68 L634.15,148.68 L635.40,147.67 L636.65,147.65 L637.90,146.25 L639.15,146.48 L640.40,145.14 L641.65,145.33 L642.90,144.28 L644.15,144.50 L645.40,143.39 L646.65,143.45 L647.90,142.30 L649.15,142.57 L650.40,141.36 L651.65,141.29 L652.90,140.26 L654.15,140.01 L655.40,138.83 L656.65,138.89 L657.90,137.65 L659.15,137.57 L660.40,136.73 L661.65,136.65 L662.90,135.85 L664.15,135.64 L665.40,134.90 L666.65,134.64 L667.90,134.04 L669.15,133.90 L670.40,133.11 L671.65,132.80 L672.90,132.02 L674.15,131.85 L675.40,131.03 L676.65,130.75 L677.90,129.98 L679.15,129.88 L680.40,129.00 L681.65,128.94 L682.90,128.19 L684.15,127.95 L685.40,127.30 L686.65,127.17 L687.90,126.38 L689.15,126.24 L690.40,125.74 L691.65,125.50 L692.90,124.99 L694.15,124.82 L695.40,124.29 L696.65,124.18 L697.90,123.82 L699.15,123.70 L700.40,123.32 L701.65,123.32 L702.90,122.92 L704.15,123.03 L705.40,122.71 L706.72,122.77 L708.07,122.47 L709.35,122.51 L710.40,122.28 L711.20,122.45 L711.81,122.21 L712.27,122.41 L712.60,122.24" stroke="#000000" stroke-width="1.1" fill="none" stroke-linejoin="round"/>
<path d="M549.30,1.50 L549.32,2.21 L549.35,3.20 L549.38,4.38 L549.42,5.63 L549.46,6.87 L549.50,8.00 L549.53,9.05 L549.56,10.11 L549.59,11.16 L549.63,12.17 L549.70,13.12 L549.80,14.00 L549.95,14.78 L550.13,15.48 L550.34,16.12 L550.57,16.74 L550.79,17.36 L551.00,18.00 L551.21,18.68 L551.44,19.37 L551.67,20.06 L551.88,20.74 L552.06,21.39 L552.20,22.00 L552.29,22.56 L552.36,23.07 L552.39,23.56 L552.39,24.04 L552.36,24.51 L552.30,25.00 L552.18,25.50 L552.00,26.00 L551.78,26.50 L551.57,27.00 L551.40,27.50 L551.30,28.00 L551.28,28.50 L551.30,29.00 L551.37,29.50 L551.46,30.00 L551.58,30.50 L551.70,31.00 L551.84,31.49 L552.02,31.98 L552.22,32.47 L552.42,32.96 L552.62,33.47 L552.80,34.00 L552.96,34.53 L553.12,35.05 L553.27,35.59 L553.42,36.16 L553.58,36.79 L553.75,37.50 L553.94,38.32 L554.15,39.23 L554.37,40.21 L554.58,41.20 L554.80,42.18 L555.00,43.10 L555.20,43.99 L555.39,44.88 L555.58,45.75 L555.76,46.59 L555.94,47.38 L556.10,48.10 L556.25,48.70 L556.40,49.19 L556.53,49.63 L556.66,50.08 L556.78,50.60 L556.90,51.25 L557.00,52.05 L557.09,52.95 L557.17,53.92 L557.26,54.93 L557.36,55.93 L557.50,56.90 L557.67,57.84 L557.87,58.79 L558.08,59.74 L558.31,60.68 L558.53,61.60 L558.75,62.50 L558.95,63.36 L559.15,64.19 L559.34,65.01 L559.54,65.82 L559.76,66.64 L560.00,67.50 L560.26,68.39 L560.54,69.31 L560.83,70.25 L561.14,71.19 L561.46,72.11 L561.80,73.00 L562.17,73.86 L562.58,74.71 L563.00,75.54 L563.42,76.37 L563.83,77.18 L564.20,78.00 L564.52,78.81 L564.81,79.60 L565.08,80.39 L565.35,81.18 L565.65,81.98 L566.00,82.80 L566.41,83.64 L566.85,84.50 L567.33,85.37 L567.81,86.24 L568.31,87.12 L568.80,88.00 L569.28,88.88 L569.76,89.77 L570.24,90.66 L570.74,91.55 L571.26,92.43 L571.80,93.30 L572.36,94.19 L572.93,95.10 L573.52,96.01 L574.14,96.87 L574.80,97.64 L575.50,98.30 L576.23,98.81 L577.00,99.20 L577.79,99.51 L578.64,99.77 L579.54,100.02 L580.50,100.30 L581.57,100.59 L582.76,100.85 L584.00,101.11 L585.24,101.36 L586.43,101.62 L587.50,101.90 L588.45,102.18 L589.31,102.45 L590.12,102.73 L590.91,103.03 L591.69,103.36 L592.50,103.75 L593.33,104.21 L594.17,104.73 L595.00,105.28 L595.83,105.85 L596.67,106.40 L597.50,106.90 L598.32,107.35 L599.12,107.76 L599.92,108.15 L600.74,108.55 L601.59,108.96 L602.50,109.40 L603.45,109.88 L604.44,110.40 L605.47,110.93 L606.53,111.46 L607.62,111.99 L608.75,112.50 L609.95,113.01 L611.22,113.54 L612.53,114.06 L613.83,114.56 L615.09,115.01 L616.25,115.40 L617.30,115.72 L618.26,115.97 L619.17,116.18 L620.07,116.36 L621.00,116.53 L622.00,116.70 L623.07,116.86 L624.19,116.99 L625.34,117.10 L626.50,117.22 L627.64,117.35 L628.75,117.50 L629.82,117.68 L630.87,117.88 L631.91,118.10 L632.94,118.32 L633.96,118.54 L635.00,118.75 L636.04,118.97 L637.08,119.19 L638.12,119.42 L639.17,119.63 L640.21,119.83 L641.25,120.00 L642.29,120.14 L643.33,120.25 L644.38,120.35 L645.42,120.43 L646.46,120.51 L647.50,120.60 L648.53,120.70 L649.54,120.81 L650.55,120.92 L651.57,121.01 L652.64,121.08 L653.75,121.10 L654.94,121.08 L656.20,121.01 L657.50,120.92 L658.80,120.81 L660.06,120.70 L661.25,120.60 L662.36,120.51 L663.43,120.43 L664.45,120.35 L665.46,120.25 L666.47,120.14 L667.50,120.00 L668.54,119.84 L669.58,119.65 L670.62,119.45 L671.67,119.24 L672.71,119.00 L673.75,118.75 L674.79,118.48 L675.83,118.18 L676.88,117.87 L677.92,117.54 L678.96,117.22 L680.00,116.90 L681.06,116.59 L682.13,116.27 L683.20,115.95 L684.26,115.64 L685.28,115.32 L686.25,115.00 L687.16,114.69 L688.01,114.39 L688.83,114.09 L689.63,113.78 L690.43,113.45 L691.25,113.10 L692.07,112.71 L692.87,112.30 L693.67,111.86 L694.49,111.43 L695.34,111.00 L696.25,110.60 L697.24,110.22 L698.31,109.83 L699.41,109.46 L700.50,109.11 L701.55,108.79 L702.50,108.50 L703.34,108.25 L704.10,108.04 L704.82,107.85 L705.51,107.69 L706.23,107.54 L707.00,107.40 L707.89,107.28 L708.87,107.17 L709.88,107.08 L710.83,107.01 L711.63,106.95 L712.20,106.90" stroke="#3ee81c" stroke-width="1.5" fill="none" stroke-dasharray="3.8 3"/>
<path d="M548.75,22.00 L548.82,23.39 L548.92,25.30 L549.04,27.56 L549.17,30.04 L549.29,32.57 L549.40,35.00 L549.49,37.38 L549.57,39.85 L549.65,42.38 L549.72,44.93 L549.81,47.48 L549.90,50.00 L550.01,52.56 L550.12,55.19 L550.24,57.81 L550.36,60.37 L550.48,62.79 L550.60,65.00 L550.71,66.92 L550.82,68.59 L550.93,70.12 L551.04,71.63 L551.14,73.22 L551.25,75.00 L551.36,77.06 L551.47,79.33 L551.58,81.69 L551.69,84.00 L551.79,86.15 L551.90,88.00 L552.00,89.51 L552.08,90.76 L552.16,91.84 L552.25,92.85 L552.36,93.87 L552.50,95.00 L552.67,96.22 L552.87,97.46 L553.08,98.72 L553.31,99.98 L553.53,101.24 L553.75,102.50 L553.94,103.79 L554.12,105.11 L554.30,106.44 L554.49,107.73 L554.72,108.93 L555.00,110.00 L555.33,110.92 L555.69,111.72 L556.09,112.44 L556.53,113.10 L557.00,113.74 L557.50,114.40 L558.04,115.07 L558.61,115.74 L559.22,116.38 L559.86,117.00 L560.54,117.57 L561.25,118.10 L562.00,118.60 L562.78,119.07 L563.59,119.51 L564.44,119.89 L565.33,120.19 L566.25,120.40 L567.20,120.50 L568.19,120.49 L569.22,120.41 L570.28,120.28 L571.37,120.13 L572.50,120.00 L573.68,119.86 L574.91,119.69 L576.17,119.51 L577.45,119.32 L578.74,119.14 L580.00,119.00 L581.25,118.89 L582.50,118.81 L583.75,118.75 L585.00,118.69 L586.25,118.61 L587.50,118.50 L588.75,118.37 L590.00,118.21 L591.25,118.05 L592.50,117.87 L593.75,117.69 L595.00,117.50 L596.29,117.29 L597.64,117.06 L598.98,116.83 L600.28,116.59 L601.47,116.38 L602.50,116.20 L603.31,116.07 L603.94,115.97 L604.45,115.89 L604.95,115.82 L605.52,115.73 L606.25,115.60 L607.15,115.44 L608.15,115.25 L609.22,115.04 L610.32,114.83 L611.43,114.61 L612.50,114.40 L613.54,114.19 L614.58,113.96 L615.62,113.74 L616.67,113.51 L617.71,113.30 L618.75,113.10 L619.79,112.91 L620.83,112.74 L621.88,112.57 L622.92,112.41 L623.96,112.25 L625.00,112.10 L626.04,111.96 L627.08,111.82 L628.12,111.69 L629.17,111.56 L630.21,111.43 L631.25,111.30 L632.29,111.17 L633.33,111.04 L634.38,110.91 L635.42,110.77 L636.46,110.64 L637.50,110.50 L638.54,110.36 L639.58,110.21 L640.62,110.06 L641.67,109.91 L642.71,109.76 L643.75,109.60 L644.79,109.43 L645.83,109.26 L646.88,109.08 L647.92,108.91 L648.96,108.74 L650.00,108.60 L651.06,108.47 L652.13,108.35 L653.20,108.24 L654.26,108.15 L655.28,108.07 L656.25,108.00 L657.14,107.95 L657.96,107.92 L658.75,107.90 L659.54,107.89 L660.36,107.89 L661.25,107.90 L662.22,107.91 L663.24,107.94 L664.30,107.97 L665.37,108.01 L666.44,108.05 L667.50,108.10 L668.54,108.15 L669.58,108.20 L670.62,108.26 L671.67,108.32 L672.71,108.40 L673.75,108.50 L674.79,108.62 L675.83,108.77 L676.88,108.94 L677.92,109.10 L678.96,109.26 L680.00,109.40 L681.04,109.52 L682.08,109.62 L683.12,109.72 L684.17,109.81 L685.21,109.90 L686.25,110.00 L687.29,110.10 L688.33,110.21 L689.38,110.31 L690.42,110.41 L691.46,110.51 L692.50,110.60 L693.46,110.68 L694.32,110.76 L695.18,110.84 L696.13,110.90 L697.29,110.96 L698.75,111.00 L700.73,111.02 L703.20,111.03 L705.87,111.03 L708.45,111.01 L710.65,111.00 L712.20,111.00" stroke="#f01010" stroke-width="1.2" fill="none" stroke-dasharray="4 1.2 1.3 1.2"/>
<line x1="671.4" y1="18.5" x2="710.8" y2="18.5" stroke="#000000" stroke-width="1.1" fill="none" stroke-linejoin="round"/>
<line x1="671.4" y1="27.0" x2="710.8" y2="27.0" stroke="#5aa5f5" stroke-width="1.5" fill="none" stroke-dasharray="1.3 1.15"/>
<line x1="671.4" y1="35.2" x2="710.8" y2="35.2" stroke="#3ee81c" stroke-width="1.5" fill="none" stroke-dasharray="3.8 3"/>
<line x1="671.4" y1="43.3" x2="710.8" y2="43.3" stroke="#f01010" stroke-width="1.2" fill="none" stroke-dasharray="4 1.2 1.3 1.2"/>
<text x="715.5" y="20.80" class="lg">λ=0.020</text>
<text x="715.5" y="28.90" class="lg">λ=0.56</text>
<text x="715.5" y="37.15" class="lg">λ=1.4</text>
<text x="715.5" y="45.30" class="lg">λ=3.2</text>
</svg>
</body></html>
